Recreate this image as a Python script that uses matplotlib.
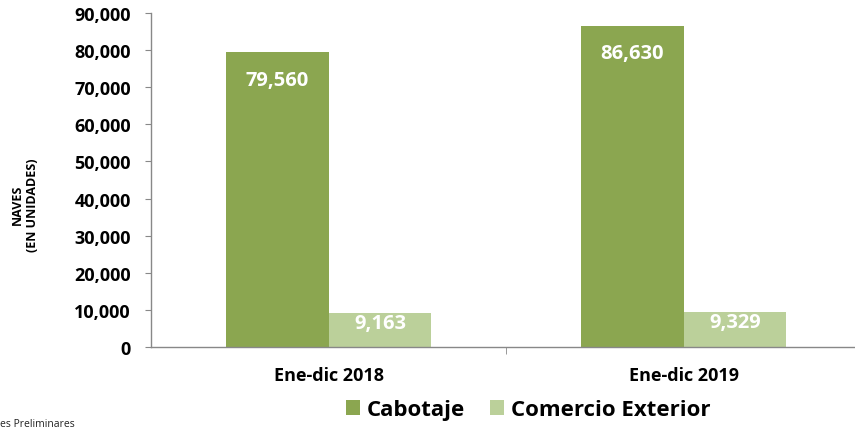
import matplotlib
matplotlib.use("Agg")
import matplotlib.pyplot as plt
import numpy as np
from matplotlib.ticker import FuncFormatter

categories = ["Ene-dic 2018", "Ene-dic 2019"]
cabotaje = [79560, 86630]
comercio_exterior = [9163, 9329]
series_names = ["Cabotaje", "Comercio Exterior"]
yticks = list(range(0, 90001, 10000))

plt.rcParams['font.family'] = ['Open Sans', 'DejaVu Sans']
fig = plt.figure(figsize=(8.55, 4.31), dpi=100)
ax = fig.add_axes([151/855, 1-348/431, 710/855, 334/431])

c1 = "#8BA650"
c2 = "#BBD09A"
x = np.arange(len(categories))
w = 0.29
b1 = ax.bar(x - w/2, cabotaje, w, color=c1, label=series_names[0])
b2 = ax.bar(x + w/2, comercio_exterior, w, color=c2, label=series_names[1])

for bars, vals, off in ((b1, cabotaje, -20), (b2, comercio_exterior, -7)):
    for r, v in zip(bars, vals):
        ax.annotate(f"{v:,}", (r.get_x() + r.get_width()/2, v), xytext=(0, off),
                    textcoords="offset points", ha="center", va="center",
                    color="white", fontsize=14.5, fontweight="bold")

ax.set_xlim(-0.5, 1.5)
ax.set_ylim(0, 90000)
ax.set_yticks(yticks)
ax.yaxis.set_major_formatter(FuncFormatter(lambda v, p: f"{int(v):,}"))
ax.set_xticks(x)
ax.set_xticklabels(categories)
ax.set_xticks([0.5], minor=True)
ax.tick_params(axis='x', which='major', length=0, pad=14, labelsize=13)
ax.tick_params(axis='x', which='minor', length=5, color="#888888", direction='out')
ax.tick_params(axis='y', length=4.5, color="#888888", labelsize=13, pad=10)
for lab in ax.get_xticklabels() + ax.get_yticklabels():
    lab.set_fontweight("bold")
for s in ("top", "right"):
    ax.spines[s].set_visible(False)
for s in ("left", "bottom"):
    ax.spines[s].set_color("#888888")
    ax.spines[s].set_linewidth(1)

fig.text(25/855, 1-205/431, "NAVES\n(EN UNIDADES)", rotation=90, ha="center", va="center",
         fontsize=9, fontweight="bold", linespacing=1.25)

leg = fig.legend(handles=[b1, b2], loc="center", bbox_to_anchor=(528/855, 1-411/431), ncol=2,
                 frameon=False, handlelength=0.65, handleheight=0.65,
                 handletextpad=0.3, columnspacing=1.1, prop={'weight': 'bold', 'size': 16})

fig.text(0, 1-425/431, "es Preliminares", fontsize=7.5, ha="left", va="center", color="#222222")

fig.savefig("out.png", dpi=100)
